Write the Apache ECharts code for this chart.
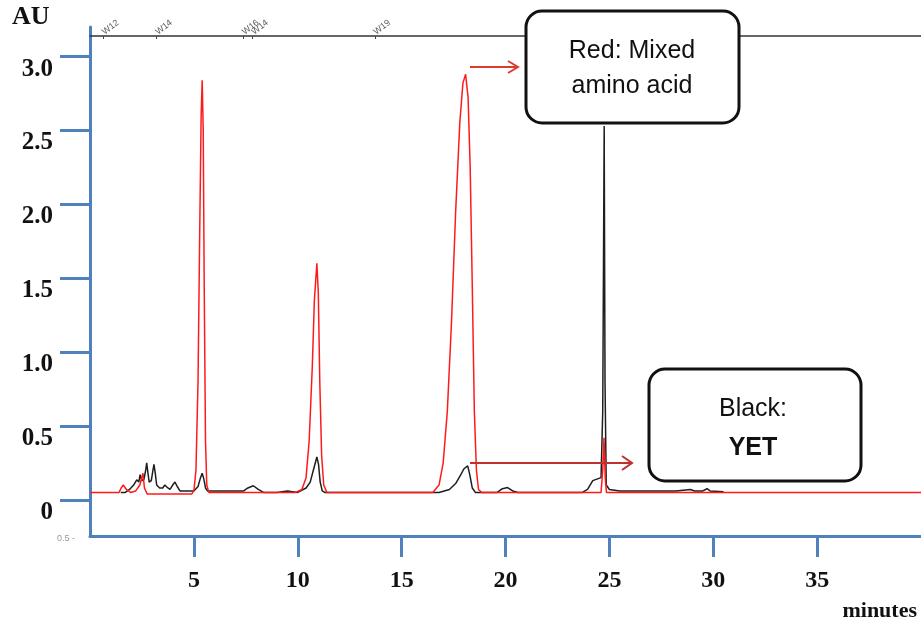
<!DOCTYPE html>
<html>
<head>
<meta charset="utf-8">
<script src="https://cdn.jsdelivr.net/npm/echarts@6/dist/echarts.min.js"></script>
<style>
html,body{margin:0;padding:0;background:#fff;}
#chart{width:921px;height:629px;}
</style>
</head>
<body>
<div id="chart"></div>
<script>
// ---- data (minutes, AU) ----
const redTime = [0, 1.40, 1.50, 1.60, 1.75, 1.95, 2.20, 2.40, 2.55, 2.62, 2.75, 4.90, 5.00, 5.10, 5.20, 5.28, 5.35, 5.40, 5.45, 5.50, 5.56, 5.62, 5.72,
  9.90, 10.20, 10.40, 10.55, 10.70, 10.80, 10.92, 10.99, 11.06, 11.15, 11.25, 11.40,
  16.50, 16.80, 17.00, 17.20, 17.40, 17.60, 17.80, 17.95, 18.08, 18.20, 18.30, 18.40, 18.50, 18.60, 18.70, 18.85,
  24.60, 24.68, 24.74, 24.80, 24.86, 40];
const redAU = [0.05, 0.05, 0.08, 0.10, 0.07, 0.05, 0.06, 0.10, 0.18, 0.08, 0.04, 0.04, 0.06, 0.20, 0.80, 1.80, 2.60, 2.84, 2.50, 1.40, 0.40, 0.10, 0.05,
  0.05, 0.07, 0.15, 0.40, 0.90, 1.35, 1.60, 1.40, 0.80, 0.30, 0.10, 0.05,
  0.05, 0.10, 0.25, 0.60, 1.20, 1.95, 2.55, 2.82, 2.88, 2.72, 2.25, 1.45, 0.60, 0.20, 0.07, 0.05,
  0.05, 0.20, 0.42, 0.15, 0.05, 0.05];

const blackTime = [1.48, 1.70, 1.90, 2.10, 2.25, 2.35, 2.41, 2.49, 2.60, 2.68, 2.73, 2.79, 2.85, 2.95, 3.03, 3.08, 3.14, 3.21, 3.35, 3.50, 3.60, 3.66, 3.75, 3.85, 3.98, 4.09, 4.20, 4.33, 4.60,
  5.00, 5.20, 5.32, 5.40, 5.48, 5.56, 5.65, 6.50, 7.40, 7.60, 7.86, 8.10, 8.35, 9.00, 9.50, 10.00,
  10.40, 10.60, 10.75, 10.92, 11.00, 11.08, 11.18, 11.30,
  16.80, 17.30, 17.60, 17.85, 18.00, 18.18, 18.28, 18.40, 18.55,
  19.60, 19.85, 20.10, 20.35, 20.60, 23.70, 23.95, 24.20, 24.40, 24.60, 24.68, 24.75, 24.79, 24.85, 25.00, 25.50, 26.50, 28.20, 28.90, 29.10, 29.50, 29.70, 29.85, 30.50];
const blackAU = [0.05, 0.05, 0.07, 0.10, 0.135, 0.12, 0.17, 0.13, 0.14, 0.20, 0.25, 0.18, 0.12, 0.13, 0.20, 0.24, 0.18, 0.10, 0.08, 0.08, 0.10, 0.11, 0.08, 0.07, 0.10, 0.12, 0.09, 0.06, 0.06,
  0.06, 0.09, 0.15, 0.18, 0.14, 0.08, 0.06, 0.06, 0.06, 0.08, 0.095, 0.07, 0.05, 0.05, 0.06, 0.05,
  0.08, 0.12, 0.20, 0.29, 0.24, 0.12, 0.06, 0.05,
  0.05, 0.07, 0.11, 0.17, 0.21, 0.23, 0.17, 0.08, 0.05,
  0.05, 0.075, 0.083, 0.06, 0.05, 0.05, 0.07, 0.13, 0.14, 0.15, 0.60, 2.53, 0.80, 0.10, 0.07, 0.06, 0.06, 0.06, 0.07, 0.06, 0.06, 0.075, 0.06, 0.055];

const xTicks = [5, 10, 15, 20, 25, 30, 35];
const yTicks = [0, 0.5, 1.0, 1.5, 2.0, 2.5, 3.0];
const yTickLabels = ['0', '0.5', '1.0', '1.5', '2.0', '2.5', '3.0'];
const markerTimes = [0.64, 3.21, 7.38, 7.83, 13.71];
const markerNames = ['W12', 'W14', 'W16', 'W14', 'W19'];

const zip = (a, b) => a.map((v, i) => [v, b[i]]);

const chart = echarts.init(document.getElementById('chart'), null, {renderer: 'canvas'});
const blue = '#4f81bd';
const serif = '"Liberation Serif", "Times New Roman", serif';
const sans = '"Liberation Sans", Arial, sans-serif';

chart.setOption({
  animation: false,
  backgroundColor: '#fff',
  grid: {left: 90, right: 0, top: 27, bottom: 93, containLabel: false},
  xAxis: [{
    type: 'value', min: 0, max: 40, position: 'bottom',
    axisLine: {show: true, onZero: false, lineStyle: {color: blue, width: 3}},
    axisTick: {show: true, length: 21, customValues: xTicks, lineStyle: {color: blue, width: 3}},
    axisLabel: {customValues: xTicks, margin: 33, fontFamily: serif, fontWeight: 'bold', fontSize: 24, color: '#111'},
    splitLine: {show: false}
  }, {
    type: 'value', min: 0, max: 40, position: 'top', offset: -9,
    axisLine: {show: true, onZero: false, lineStyle: {color: '#333', width: 1.5}},
    axisTick: {show: true, inside: true, length: 3, customValues: markerTimes, lineStyle: {color: '#444', width: 1}},
    axisLabel: {customValues: markerTimes, rotate: -38, margin: 3, fontSize: 9, color: '#555', fontFamily: sans,
      formatter: v => { const i = markerTimes.indexOf(v); return i >= 0 ? markerNames[i] : ''; }},
    splitLine: {show: false}
  }],
  yAxis: {
    type: 'value', min: -0.245, max: 3.2,
    axisLine: {show: true, onZero: false, lineStyle: {color: blue, width: 3}},
    axisTick: {show: true, length: 30, customValues: yTicks, lineStyle: {color: blue, width: 3}},
    axisLabel: {customValues: yTicks, margin: 37, fontFamily: serif, fontWeight: 'bold', fontSize: 25, color: '#111',
      verticalAlign: 'top', formatter: v => { const i = yTicks.indexOf(v); return i >= 0 ? yTickLabels[i] : ''; }},
    splitLine: {show: false}
  },
  series: [{
    type: 'line', name: 'YET', data: zip(blackTime, blackAU), showSymbol: false, symbol: 'none',
    lineStyle: {color: '#1e1e1e', width: 1.5}, z: 2
  }, {
    type: 'line', name: 'Mixed amino acid', data: zip(redTime, redAU), showSymbol: false, symbol: 'none',
    lineStyle: {color: '#ff1a1a', width: 1.5}, z: 3
  }],
  graphic: [
    {type: 'text', left: 12, top: 4, style: {text: 'AU', font: 'bold 26px ' + serif, fill: '#111'}},
    {type: 'text', right: 4, top: 600, style: {text: 'minutes', font: 'bold 22px ' + serif, fill: '#111'}},
    {type: 'text', left: 57, top: 534, style: {text: '0.5 -', font: '9px ' + sans, fill: '#999'}},
    // arrows
    {type: 'polyline', shape: {points: [[470, 67], [518, 67]]}, style: {stroke: '#e03a2f', lineWidth: 2}, z: 10},
    {type: 'polyline', shape: {points: [[508, 61], [518, 67], [508, 73]]}, style: {stroke: '#e03a2f', lineWidth: 2, fill: null}, z: 10},
    {type: 'polyline', shape: {points: [[470, 463], [632, 463]]}, style: {stroke: '#c0302c', lineWidth: 2}, z: 10},
    {type: 'polyline', shape: {points: [[622, 456], [632, 463], [622, 470]]}, style: {stroke: '#c0302c', lineWidth: 2, fill: null}, z: 10},
    // callout boxes
    {type: 'rect', shape: {x: 526, y: 11, width: 213, height: 112, r: 16}, style: {fill: '#fff', stroke: '#111', lineWidth: 3}, z: 20},
    {type: 'text', x: 632, y: 51, style: {text: 'Red: Mixed', font: '25px ' + sans, fill: '#111', align: 'center', verticalAlign: 'middle'}, z: 21},
    {type: 'text', x: 632, y: 86, style: {text: 'amino acid', font: '25px ' + sans, fill: '#111', align: 'center', verticalAlign: 'middle'}, z: 21},
    {type: 'rect', shape: {x: 649, y: 369, width: 212, height: 112, r: 16}, style: {fill: '#fff', stroke: '#111', lineWidth: 3}, z: 20},
    {type: 'text', x: 753, y: 409, style: {text: 'Black:', font: '25px ' + sans, fill: '#111', align: 'center', verticalAlign: 'middle'}, z: 21},
    {type: 'text', x: 753, y: 448, style: {text: 'YET', font: 'bold 25px ' + sans, fill: '#111', align: 'center', verticalAlign: 'middle'}, z: 21}
  ]
});
</script>
</body>
</html>
